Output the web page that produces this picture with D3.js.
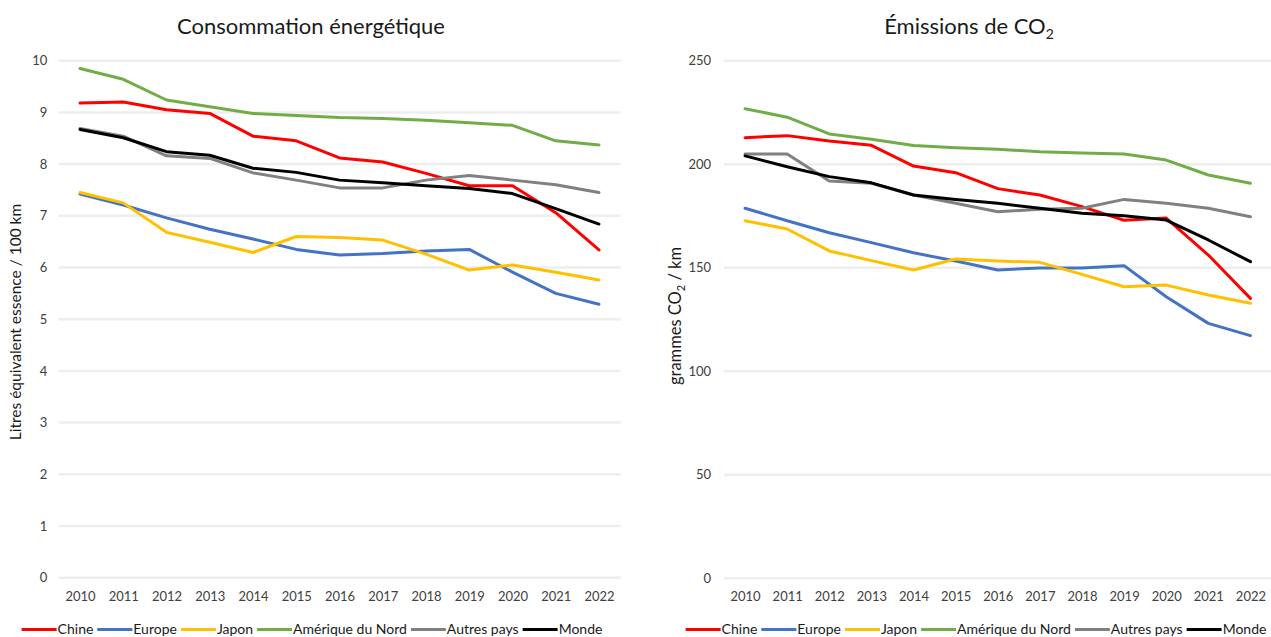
<!DOCTYPE html>
<html><head><meta charset="utf-8">
<script src="https://cdn.jsdelivr.net/npm/d3@7"></script>
<style>
body{margin:0;background:#fff;}
svg{display:block;font-family:Lato,"Open Sans",sans-serif;}
</style></head>
<body>
<svg id="c" width="1271" height="637"></svg>
<script>
const years = ["2010","2011","2012","2013","2014","2015","2016","2017","2018","2019","2020","2021","2022"];
const seriesNames = ["Chine","Europe","Japon","Amérique du Nord","Autres pays","Monde"];
const seriesColors = ["#ff0000","#4472c4","#ffc000","#70ad47","#808080","#000000"];

// Consommation énergétique (L / 100 km)
const consChine  = [9.18,9.20,9.05,8.98,8.54,8.45,8.12,8.04,7.82,7.58,7.58,7.06,6.34];
const consEurope = [7.42,7.21,6.96,6.74,6.55,6.35,6.24,6.27,6.32,6.35,5.91,5.50,5.29];
const consJapon  = [7.45,7.25,6.68,6.49,6.29,6.60,6.58,6.53,6.26,5.95,6.05,5.91,5.76];
const consAmNord = [9.85,9.64,9.24,9.11,8.98,8.94,8.90,8.88,8.85,8.80,8.75,8.45,8.37];
const consAutres = [8.69,8.54,8.16,8.11,7.83,7.69,7.54,7.54,7.69,7.78,7.69,7.60,7.45];
const consMonde  = [8.67,8.51,8.24,8.17,7.92,7.84,7.69,7.64,7.58,7.53,7.43,7.14,6.84];

// Émissions de CO2 (g / km)
const co2Chine  = [212.8,213.8,211.2,209.1,199.1,195.9,188.2,185.1,179.5,172.9,174.0,156.1,135.2];
const co2Europe = [178.7,172.7,166.9,162.1,157.2,153.2,148.9,149.9,149.9,151.0,136.0,123.1,117.2];
const co2Japon  = [172.7,168.7,158.1,153.4,148.9,154.2,153.2,152.6,146.8,140.8,141.6,136.8,132.8];
const co2AmNord = [226.8,222.7,214.6,212.0,209.0,208.0,207.2,206.0,205.4,204.9,202.0,194.8,190.8];
const co2Autres = [204.9,204.9,191.9,190.8,185.1,181.1,177.0,178.2,178.7,183.0,181.1,178.7,174.6];
const co2Monde  = [204.0,198.8,194.0,191.0,185.1,183.0,181.1,178.7,176.3,175.1,173.0,163.4,152.9];

const consTicks = [0,1,2,3,4,5,6,7,8,9,10];
const co2Ticks = [0,50,100,150,200,250];

const svg = d3.select("#c");

function drawChart(cfg){
  const g = svg.append("g");
  const x = d3.scalePoint().domain(years).range([cfg.x0, cfg.x1]).padding(0.5);
  const y = d3.scaleLinear().domain(cfg.domain).range([cfg.yBottom, cfg.yTop]);

  // gridlines
  g.append("g").selectAll("line").data(cfg.ticks).join("line")
    .attr("x1", cfg.x0).attr("x2", cfg.x1)
    .attr("y1", d=>y(d)).attr("y2", d=>y(d))
    .attr("stroke", "#eeeeee").attr("stroke-width", 2.5);

  // y axis labels
  const ya = g.append("g").attr("transform", `translate(${cfg.x0},0)`)
    .call(d3.axisLeft(y).tickValues(cfg.ticks).tickSize(0).tickPadding(cfg.tickPad));
  ya.select(".domain").remove();
  ya.selectAll("text").attr("font-family","Lato, 'Open Sans', sans-serif").attr("font-size",13).attr("fill","#404040");

  // x axis labels
  const xa = g.append("g").attr("transform", `translate(0,${cfg.yBottom})`)
    .call(d3.axisBottom(x).tickSize(0).tickPadding(14));
  xa.select(".domain").remove();
  xa.selectAll("text").attr("font-family","Lato, 'Open Sans', sans-serif").attr("font-size",13).attr("fill","#404040");

  // lines
  const line = d3.line().x((d,i)=>x(years[i])).y(d=>y(d));
  cfg.series.forEach((s,i)=>{
    g.append("path").datum(s).attr("d", line)
      .attr("fill","none").attr("stroke", seriesColors[i])
      .attr("stroke-width", 3).attr("stroke-linejoin","round").attr("stroke-linecap","round");
  });

  // title
  const t = g.append("text").attr("x", cfg.titleX).attr("y", 34)
    .attr("text-anchor","middle").attr("font-size",22).attr("fill","#1a1a1a");
  cfg.title(t);

  // y axis title
  const yt = g.append("text")
    .attr("transform", `translate(${cfg.yTitleX},${cfg.yTitleY}) rotate(-90)`)
    .attr("text-anchor","middle").attr("font-size",cfg.yTitleSize).attr("fill","#1a1a1a");
  cfg.yTitle(yt);

  // legend
  const lg = g.append("g");
  let cx = 0;
  seriesNames.forEach((n,i)=>{
    lg.append("line").attr("x1",cx).attr("x2",cx+35).attr("y1",0).attr("y2",0)
      .attr("stroke",seriesColors[i]).attr("stroke-width",3);
    const tx = lg.append("text").attr("x",cx+36).attr("y",4.5).attr("font-size",14).attr("fill","#1a1a1a").text(n);
    cx += 36 + tx.node().getComputedTextLength() + 4;
  });
  lg.attr("transform", `translate(${cfg.legendCx - (cx-4)/2},629.5)`);
}

drawChart({
  x0: 58.4, x1: 620.6, yTop: 60.7, yBottom: 577.7, domain:[0,10], ticks: consTicks, tickPad: 11,
  series:[consChine,consEurope,consJapon,consAmNord,consAutres,consMonde],
  titleX: 311, legendCx: 312,
  title: t=>t.text("Consommation énergétique"),
  yTitleX: 21, yTitleY: 322, yTitleSize: 15.5,
  yTitle: t=>t.text("Litres équivalent essence / 100 km")
});

drawChart({
  x0: 724, x1: 1271.5, yTop: 60.7, yBottom: 578.2, domain:[0,250], ticks: co2Ticks, tickPad: 13,
  series:[co2Chine,co2Europe,co2Japon,co2AmNord,co2Autres,co2Monde],
  titleX: 969, legendCx: 976,
  title: t=>{ t.append("tspan").text("Émissions de CO"); t.append("tspan").attr("font-size",14).attr("dy",5).text("2"); },
  yTitleX: 681, yTitleY: 316, yTitleSize: 16.5,
  yTitle: t=>{ t.append("tspan").text("grammes CO"); t.append("tspan").attr("font-size",11).attr("dy",4).text("2"); t.append("tspan").attr("dy",-4).text(" / km"); }
});
</script>
</body></html>
